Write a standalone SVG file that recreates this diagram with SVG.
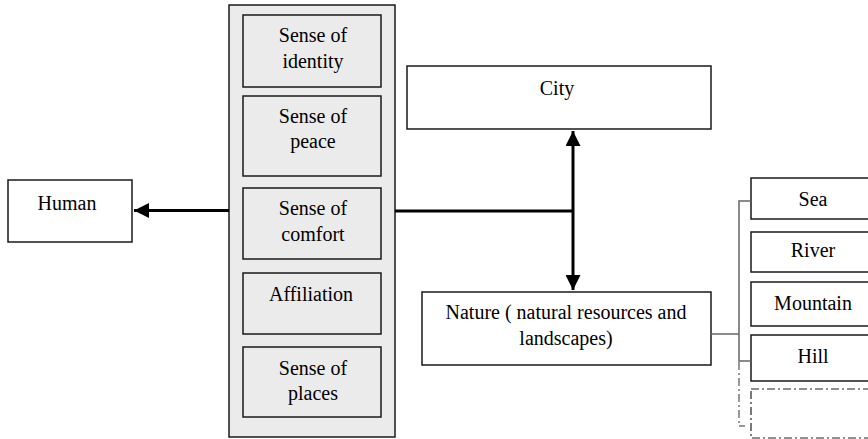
<svg xmlns="http://www.w3.org/2000/svg" width="868" height="439" viewBox="0 0 868 439">
<defs>
<style>
text{font-family:"Liberation Serif","Times New Roman",serif;font-size:20px;fill:#000;text-anchor:middle}
.box{fill:#fff;stroke:#1a1a1a;stroke-width:1.5}
.inner{fill:#ebebeb;stroke:#1a1a1a;stroke-width:1.5}
.thick{stroke:#000;stroke-width:3;fill:none}
.thin{stroke:#666;stroke-width:1.5;fill:none}
.dd{stroke:#777;stroke-width:1.5;fill:none;stroke-dasharray:8 3 2 3}
.ddbox{fill:#fff;stroke:#222;stroke-width:1.2;stroke-dasharray:8 3 2 3}
</style>
<marker id="ah" viewBox="0 0 10 10" refX="10" refY="5" markerWidth="5" markerHeight="5" markerUnits="strokeWidth" orient="auto-start-reverse">
<path d="M0,0 L10,5 L0,10 z" fill="#000"/>
</marker>
</defs>
<g id="container">
<rect x="229" y="5" width="166" height="432" fill="#ebebeb" stroke="#1a1a1a" stroke-width="1.5"/>
</g>
<g id="identity"><rect class="inner" x="243" y="15" width="138" height="72"/><text x="313" y="42">Sense of</text><text x="313" y="68">identity</text></g>
<g id="peace"><rect class="inner" x="243" y="96" width="138" height="80"/><text x="313" y="123">Sense of</text><text x="313" y="148">peace</text></g>
<g id="comfort"><rect class="inner" x="243" y="188" width="138" height="71"/><text x="313" y="215">Sense of</text><text x="313" y="241">comfort</text></g>
<g id="affiliation"><rect class="inner" x="243" y="273" width="138" height="61"/><text x="311" y="301">Affiliation</text></g>
<g id="places"><rect class="inner" x="243" y="347" width="138" height="70"/><text x="313" y="375">Sense of</text><text x="313" y="400">places</text></g>
<g id="human"><rect class="box" x="8" y="180" width="124" height="62"/><text x="67" y="210">Human</text></g>
<g id="city"><rect class="box" x="407" y="66" width="304" height="63"/><text x="557" y="95">City</text></g>
<g id="nature"><rect class="box" x="422" y="292" width="289" height="73"/><text x="566" y="319">Nature ( natural resources and</text><text x="566" y="345">landscapes)</text></g>
<g id="sea"><rect class="box" x="751" y="178" width="124" height="41"/><text x="813" y="206">Sea</text></g>
<g id="river"><rect class="box" x="751" y="232" width="124" height="40"/><text x="813" y="257">River</text></g>
<g id="mountain"><rect class="box" x="751" y="282" width="124" height="44"/><text x="813" y="310">Mountain</text></g>
<g id="hill"><rect class="box" x="751" y="335" width="124" height="46"/><text x="813" y="363">Hill</text></g>
<g id="empty"><rect class="ddbox" x="751" y="389" width="124" height="49"/></g>
<g id="connectors">
<line class="thick" x1="229" y1="210.5" x2="134" y2="210.5" marker-end="url(#ah)"/>
<line class="thick" x1="395" y1="211" x2="573" y2="211"/>
<line class="thick" x1="573" y1="131" x2="573" y2="290" marker-start="url(#ah)" marker-end="url(#ah)"/>
<path class="thin" d="M711,334 H739 M751,201 H739 V361 H751"/>
<path class="dd" d="M739,362 V426 H745"/>
</g>
</svg>
